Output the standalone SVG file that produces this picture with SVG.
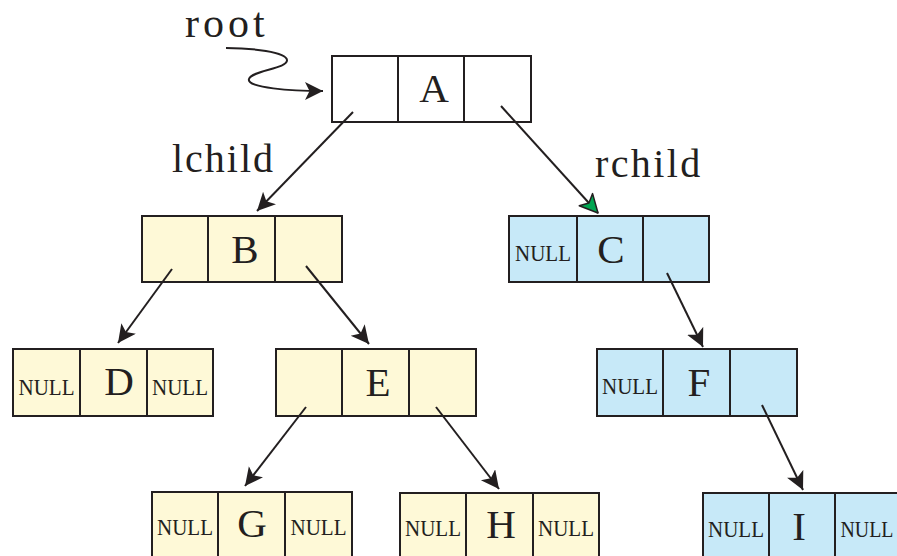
<svg xmlns="http://www.w3.org/2000/svg" width="897" height="556" viewBox="0 0 897 556">
<style>
.y{fill:#fef9d7;stroke:#231f20;stroke-width:2}
.b{fill:#c7e9f8;stroke:#231f20;stroke-width:2}
.w{fill:#ffffff;stroke:#231f20;stroke-width:2}
.d{stroke:#231f20;stroke-width:2}
.t{font-family:"Liberation Serif","Times New Roman",serif;font-size:41px;fill:#231f20;text-anchor:middle}
.n{font-family:"Liberation Serif","Times New Roman",serif;font-size:23px;fill:#231f20;text-anchor:middle}
.l{font-family:"Liberation Serif","Times New Roman",serif;font-size:40px;fill:#231f20}
.c{fill:none;stroke:#231f20;stroke-width:2}
</style>
<defs>
<marker id="ah" markerUnits="userSpaceOnUse" markerWidth="22" markerHeight="22" refX="18" refY="9" orient="auto">
<path d="M0,0 L18,9 L0,18 L4.5,9 Z" fill="#231f20"/>
</marker>
<marker id="ahg" markerUnits="userSpaceOnUse" markerWidth="24" markerHeight="24" refX="19" refY="10" orient="auto">
<path d="M1,1 L19,10 L1,19 L5.5,10 Z" fill="#00a651" stroke="#231f20" stroke-width="1.5" stroke-linejoin="round"/>
</marker>
</defs>

<text class="l" x="185" y="37" style="font-size:42px;letter-spacing:4px">root</text>
<text class="l" x="172" y="172" style="letter-spacing:2px">lchild</text>
<text class="l" x="595" y="177" style="letter-spacing:2.4px">rchild</text>

<g id="A">
<rect class="w" x="332" y="56" width="199" height="66"/>
<line class="d" x1="398" y1="56" x2="398" y2="122"/>
<line class="d" x1="464" y1="56" x2="464" y2="122"/>
<text class="t" x="434" y="102">A</text>
</g>

<g id="B">
<rect class="y" x="142" y="216" width="200" height="66"/>
<line class="d" x1="208" y1="216" x2="208" y2="282"/>
<line class="d" x1="275" y1="216" x2="275" y2="282"/>
<text class="t" x="245" y="263">B</text>
</g>

<g id="C">
<rect class="b" x="509" y="216" width="200" height="66"/>
<line class="d" x1="577" y1="216" x2="577" y2="282"/>
<line class="d" x1="643" y1="216" x2="643" y2="282"/>
<text class="n" x="543" y="261" textLength="56" lengthAdjust="spacingAndGlyphs">NULL</text>
<text class="t" x="611" y="263">C</text>
</g>

<g id="D">
<rect class="y" x="13" y="349" width="200" height="67"/>
<line class="d" x1="80" y1="349" x2="80" y2="416"/>
<line class="d" x1="147" y1="349" x2="147" y2="416"/>
<text class="n" x="46.5" y="395" textLength="56" lengthAdjust="spacingAndGlyphs">NULL</text>
<text class="t" x="119" y="395">D</text>
<text class="n" x="180" y="395" textLength="56" lengthAdjust="spacingAndGlyphs">NULL</text>
</g>

<g id="E">
<rect class="y" x="276" y="349" width="200" height="67"/>
<line class="d" x1="342" y1="349" x2="342" y2="416"/>
<line class="d" x1="409" y1="349" x2="409" y2="416"/>
<text class="t" x="378" y="396">E</text>
</g>

<g id="F">
<rect class="b" x="597" y="349" width="200" height="67"/>
<line class="d" x1="663" y1="349" x2="663" y2="416"/>
<line class="d" x1="730" y1="349" x2="730" y2="416"/>
<text class="n" x="630" y="394" textLength="56" lengthAdjust="spacingAndGlyphs">NULL</text>
<text class="t" x="699" y="396">F</text>
</g>

<g id="G">
<rect class="y" x="152" y="492" width="200" height="70"/>
<line class="d" x1="218" y1="492" x2="218" y2="562"/>
<line class="d" x1="285" y1="492" x2="285" y2="562"/>
<text class="n" x="185" y="535" textLength="56" lengthAdjust="spacingAndGlyphs">NULL</text>
<text class="t" x="252" y="537">G</text>
<text class="n" x="318.5" y="535" textLength="56" lengthAdjust="spacingAndGlyphs">NULL</text>
</g>

<g id="H">
<rect class="y" x="400" y="493" width="199" height="70"/>
<line class="d" x1="466" y1="493" x2="466" y2="563"/>
<line class="d" x1="533" y1="493" x2="533" y2="563"/>
<text class="n" x="433" y="536" textLength="56" lengthAdjust="spacingAndGlyphs">NULL</text>
<text class="t" x="501" y="538">H</text>
<text class="n" x="566" y="536" textLength="56" lengthAdjust="spacingAndGlyphs">NULL</text>
</g>

<g id="I">
<rect class="b" x="703" y="493" width="200" height="70"/>
<line class="d" x1="769" y1="493" x2="769" y2="563"/>
<line class="d" x1="835" y1="493" x2="835" y2="563"/>
<text class="n" x="736" y="537" textLength="56" lengthAdjust="spacingAndGlyphs">NULL</text>
<text class="t" x="799" y="540">I</text>
<text class="n" x="867" y="537" textLength="53" lengthAdjust="spacingAndGlyphs">NULL</text>
</g>

<g id="connectors">
<path class="c" d="M226,48 C252,48 286,52 287,60 C288,69 252,70 249,79 C246,88 292,91 323,91" marker-end="url(#ah)"/>
<line class="d" x1="353" y1="112" x2="257" y2="211" marker-end="url(#ah)"/>
<line class="d" x1="501" y1="106" x2="598" y2="213" marker-end="url(#ahg)"/>
<line class="d" x1="172" y1="269" x2="118" y2="343" marker-end="url(#ah)"/>
<line class="d" x1="306" y1="266" x2="369" y2="344" marker-end="url(#ah)"/>
<line class="d" x1="667" y1="273" x2="703" y2="347" marker-end="url(#ah)"/>
<line class="d" x1="306" y1="407" x2="245" y2="486" marker-end="url(#ah)"/>
<line class="d" x1="436" y1="407" x2="499" y2="489" marker-end="url(#ah)"/>
<line class="d" x1="762" y1="405" x2="803" y2="490" marker-end="url(#ah)"/>
</g>
</svg>
